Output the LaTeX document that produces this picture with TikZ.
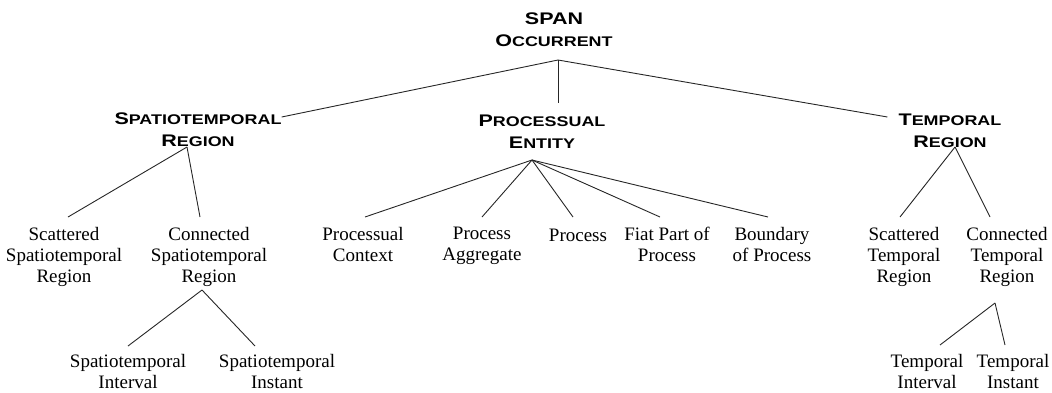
\documentclass[tikz,border=0pt]{standalone}
\usepackage{fontspec}
\setmainfont{Liberation Serif}
\newfontfamily\hdfont{Liberation Sans}[FakeStretch=1.28]
\newcommand\hdw[2]{{\fontsize{16.8}{22}\selectfont #1}{\fontsize{14}{22}\selectfont #2}}
\tikzset{
  hdr/.style={font=\hdfont\bfseries\fontsize{16.8}{22}\selectfont, align=center, inner sep=0pt, anchor=north},
  lbl/.style={font=\fontsize{19}{21}\selectfont, align=center, inner sep=0pt, anchor=north,
              execute at begin node={\rule{0pt}{14pt}}},
  link/.style={draw=black!85, line width=0.9pt}
}
\begin{document}
\begin{tikzpicture}[x=1pt,y=-1pt]
\useasboundingbox (0,0) rectangle (1052,392);
% headers
\node[hdr] (root) at (554,13) {\hdw{SPAN}{}\\\hdw{O}{CCURRENT}};
\node[hdr] (st) at (198,113) {\hdw{S}{PATIOTEMPORAL}\\\hdw{R}{EGION}};
\node[hdr] (pe) at (542,115) {\hdw{P}{ROCESSUAL}\\\hdw{E}{NTITY}};
\node[hdr] (tr) at (950,114) {\hdw{T}{EMPORAL}\\\hdw{R}{EGION}};
% second row
\node[lbl] (ss) at (64,227) {Scattered\\Spatiotemporal\\Region};
\node[lbl] (cs) at (209,227) {Connected\\Spatiotemporal\\Region};
\node[lbl] (pc) at (363,227) {Processual\\Context};
\node[lbl] (pa) at (482,227) {Process\\Aggregate};
\node[lbl] (pr) at (578,227) {Process};
\node[lbl] (fp) at (667,227) {Fiat Part of\\Process};
\node[lbl] (bp) at (772,227) {Boundary\\of Process};
\node[lbl] (sct) at (904,227) {Scattered\\Temporal\\Region};
\node[lbl] (ct) at (1007,227) {Connected\\Temporal\\Region};
% third row
\node[lbl] (si) at (128,354) {Spatiotemporal\\Interval};
\node[lbl] (sn) at (277,354) {Spatiotemporal\\Instant};
\node[lbl] (ti) at (927,354) {Temporal\\Interval};
\node[lbl] (tn) at (1013,354) {Temporal\\Instant};
% junction points
\coordinate (rA) at (558,60);
\coordinate (stA) at (187,147);
\coordinate (csA) at (202,290);
\coordinate (peA) at (532,160);
\coordinate (trA) at (955,147);
\coordinate (ctA) at (995,303);
% connectors
\draw[link] (rA) -- ([yshift=-4pt]st.north east);
\draw[link] (rA) -- ([xshift=16pt,yshift=12pt]pe.north);
\draw[link] (rA) -- ([xshift=-11pt,yshift=-3pt]tr.north west);
\draw[link] (stA) -- ([xshift=4pt,yshift=10pt]ss.north);
\draw[link] (stA) -- ([xshift=-9pt,yshift=10pt]cs.north);
\draw[link] (csA) -- ([yshift=8pt]si.north);
\draw[link] (csA) -- ([xshift=-22pt,yshift=8pt]sn.north);
\draw[link] (peA) -- ([xshift=2pt,yshift=10pt]pc.north);
\draw[link] (peA) -- ([yshift=10pt]pa.north);
\draw[link] (peA) -- ([xshift=-5pt,yshift=10pt]pr.north);
\draw[link] (peA) -- ([xshift=-7pt,yshift=10pt]fp.north);
\draw[link] (peA) -- ([xshift=-4pt,yshift=10pt]bp.north);
\draw[link] (trA) -- ([xshift=-4pt,yshift=10pt]sct.north);
\draw[link] (trA) -- ([xshift=-17pt,yshift=10pt]ct.north);
\draw[link] (ctA) -- ([xshift=13pt,yshift=9pt]ti.north);
\draw[link] (ctA) -- ([xshift=-8pt,yshift=9pt]tn.north);
\end{tikzpicture}
\end{document}
